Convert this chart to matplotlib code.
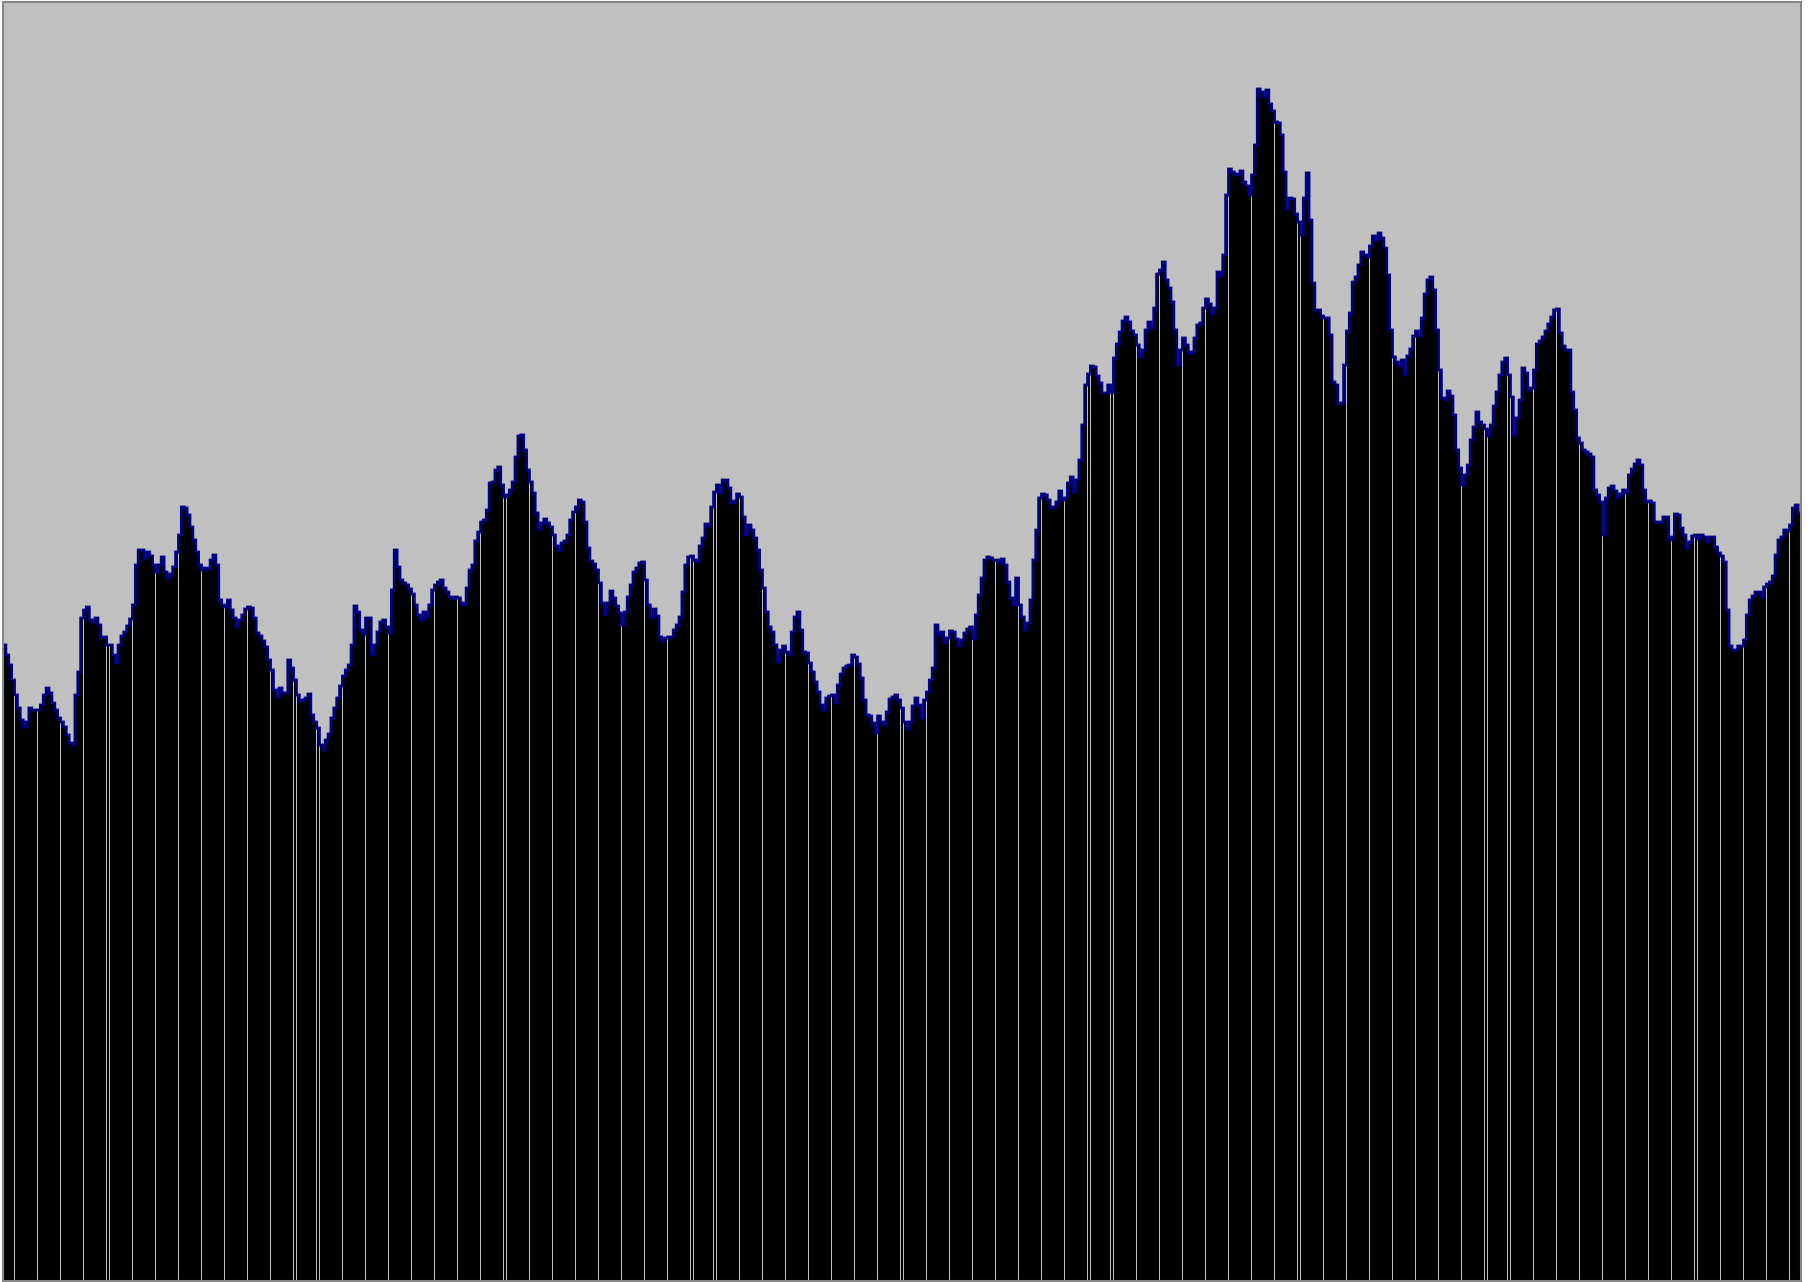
import numpy as np
import matplotlib
matplotlib.use("Agg")
import matplotlib.pyplot as plt

# bar heights (pixel units, 0 = bottom of plot)
heights = [
    636, 626, 616, 601, 586, 573, 561, 554,
    559, 573, 571, 571, 571, 576, 586, 593,
    588, 578, 571, 563, 559, 554, 546, 538,
    536, 586, 609, 663, 671, 674, 661, 659,
    663, 656, 644, 644, 636, 636, 626, 618,
    636, 645, 649, 655, 662, 676, 716, 731,
    731, 723, 729, 725, 716, 709, 716, 724,
    709, 703, 707, 714, 729, 746, 774, 773,
    766, 754, 741, 729, 716, 711, 713, 712,
    721, 726, 716, 681, 676, 674, 681, 671,
    663, 654, 661, 666, 672, 674, 673, 663,
    648, 645, 640, 634, 621, 611, 591, 584,
    593, 588, 588, 621, 613, 601, 586, 580,
    581, 583, 587, 566, 559, 553, 536, 531,
    541, 547, 563, 573, 583, 595, 605, 611,
    616, 636, 675, 669, 651, 647, 663, 663,
    626, 636, 649, 659, 661, 654, 648, 691,
    731, 714, 701, 698, 696, 692, 687, 676,
    666, 661, 669, 664, 676, 691, 696, 699,
    701, 693, 689, 684, 682, 684, 683, 678,
    676, 693, 711, 716, 740, 749, 759, 761,
    771, 798, 799, 811, 814, 796, 784, 786,
    791, 799, 824, 845, 846, 831, 811, 799,
    788, 768, 751, 758, 762, 758, 754, 746,
    735, 730, 738, 740, 746, 761, 769, 774,
    781, 779, 759, 733, 720, 717, 711, 698,
    678, 666, 678, 690, 683, 675, 668, 656,
    669, 684, 696, 709, 713, 718, 719, 701,
    676, 663, 672, 665, 644, 640, 643, 644,
    644, 651, 656, 664, 689, 716, 724, 725,
    721, 719, 735, 743, 757, 755, 774, 789,
    796, 788, 801, 801, 793, 778, 780, 787,
    784, 764, 746, 756, 751, 743, 731, 711,
    693, 669, 654, 649, 636, 619, 631, 635,
    629, 626, 649, 664, 669, 651, 629, 628,
    618, 609, 599, 589, 576, 571, 583, 585,
    586, 578, 596, 607, 613, 615, 616, 626,
    624, 617, 603, 581, 566, 565, 558, 548,
    565, 559, 556, 569, 582, 584, 586, 581,
    573, 559, 552, 559, 575, 583, 576, 563,
    581, 589, 601, 613, 656, 646, 649, 638,
    643, 650, 649, 642, 635, 641, 648, 652,
    654, 642, 666, 686, 703, 721, 724, 723,
    721, 721, 718, 722, 716, 699, 683, 676,
    703, 676, 664, 651, 658, 681, 721, 751,
    783, 787, 786, 781, 773, 774, 779, 790,
    781, 783, 798, 804, 789, 801, 821, 856,
    896, 907, 915, 914, 905, 898, 888, 888,
    896, 889, 923, 937, 949, 960, 964, 959,
    950, 946, 936, 924, 931, 951, 959, 953,
    973, 1007, 1011, 1019, 1001, 993, 979, 951,
    916, 931, 943, 936, 927, 929, 943, 956,
    958, 973, 982, 977, 967, 973, 1009, 1005,
    1026, 1086, 1112, 1109, 1106, 1107, 1110, 1099,
    1095, 1086, 1106, 1136, 1192, 1189, 1184, 1191,
    1177, 1170, 1159, 1158, 1146, 1109, 1071, 1083,
    1082, 1067, 1059, 1046, 1083, 1108, 1061, 998,
    971, 971, 965, 963, 963, 946, 899, 896,
    877, 878, 916, 950, 968, 999, 1004, 1016,
    1029, 1026, 1024, 1035, 1045, 1041, 1048, 1043,
    1033, 1006, 951, 924, 919, 915, 921, 906,
    925, 932, 945, 950, 945, 963, 987, 1001,
    1004, 991, 951, 911, 883, 881, 890, 885,
    866, 831, 813, 796, 806, 816, 841, 854,
    869, 859, 856, 852, 845, 856, 875, 889,
    906, 919, 923, 906, 884, 846, 863, 881,
    913, 908, 891, 893, 911, 937, 940, 944,
    950, 957, 964, 971, 972, 948, 935, 931,
    931, 889, 871, 843, 838, 831, 829, 827,
    824, 791, 786, 779, 746, 783, 793, 795,
    790, 783, 787, 791, 788, 806, 812, 817,
    821, 816, 791, 779, 780, 778, 759, 758,
    759, 764, 764, 741, 744, 767, 766, 753,
    746, 733, 739, 745, 746, 742, 746, 744,
    739, 744, 744, 734, 728, 725, 719, 671,
    635, 631, 631, 635, 635, 641, 666, 681,
    685, 689, 689, 684, 694, 697, 699, 705,
    726, 741, 744, 751, 750, 756, 773, 776,
    768,
]

n = len(heights)
x = np.arange(n)

fig = plt.figure(figsize=(18.2, 12.82), dpi=100, facecolor="white")
ax = fig.add_axes([3 / 1820, 1 / 1282, 1798 / 1820, 1279 / 1282])
ax.set_facecolor("#c0c0c0")

ax.bar(x, heights, width=0.95, color="black", linewidth=0)
ax.stairs(heights, np.arange(n + 1) - 0.5, baseline=None, color="#000080", linewidth=2.0)

ax.set_xlim(-0.5, n - 0.5)
ax.set_ylim(0, 1279)
ax.set_xticks([])
ax.set_yticks([])
for s in ax.spines.values():
    s.set_color("#888888")
    s.set_linewidth(1.5)

fig.savefig("out.png", dpi=100, facecolor="white")
